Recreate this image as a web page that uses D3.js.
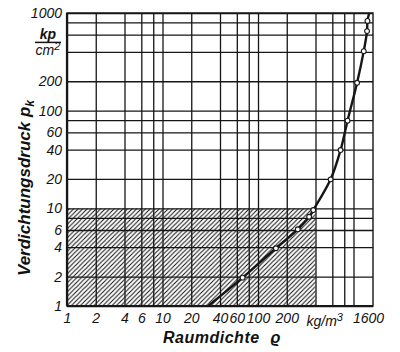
<!DOCTYPE html>
<html>
<head>
<meta charset="utf-8">
<script src="https://cdn.jsdelivr.net/npm/d3@7"></script>
<style>
  body { margin: 0; background: #fff; }
  svg text { font-family: "Liberation Sans", Arial, sans-serif; font-style: italic; fill: #111; }
</style>
</head>
<body>
<svg id="chart"></svg>
<script>
// grid values (log paper)
const gridX = [1, 2, 4, 6, 8, 10, 20, 40, 60, 80, 100, 200, 400, 600, 800, 1000];
const gridY = [1, 2, 4, 6, 8, 10, 20, 40, 60, 80, 100, 200, 400, 600, 800, 1000];
// tick labels
const tickX = [1, 2, 4, 6, 10, 20, 40, 60, 100, 200, 1600];
const tickY = [1, 2, 4, 6, 10, 20, 40, 60, 100, 200, 1000];
// measured points: density kg/m3 vs pressure kp/cm2
const density = [69, 154, 261, 343, 379, 576, 732, 866, 1090, 1280, 1386, 1400];
const pressure = [1.95, 3.9, 6.1, 8.2, 9.6, 19.8, 39.5, 79, 193, 407, 653, 830];
// where the curve leaves the paper
const curveStart = [30, 1];
const curveEnd = [1460, 1000];
// shaded area
const hatchX = [1, 400];
const hatchY = [1, 10];

const width = 400, height = 352;
const margin = { top: 13, right: 27, bottom: 46, left: 67 };
const innerW = width - margin.left - margin.right;
const innerH = height - margin.top - margin.bottom;
const ink = "#161616";

const svg = d3.select("#chart").attr("width", width).attr("height", height);

const defs = svg.append("defs");
const pat = defs.append("pattern")
    .attr("id", "hatch")
    .attr("patternUnits", "userSpaceOnUse")
    .attr("width", 4.5).attr("height", 4.5);
pat.append("path")
    .attr("d", "M-1,1 l2,-2 M0,4.5 l4.5,-4.5 M3.5,5.5 l2,-2")
    .attr("stroke", ink).attr("stroke-width", 1.1);

const g = svg.append("g").attr("transform", `translate(${margin.left},${margin.top})`);

const x = d3.scaleLog().domain([1, 1600]).range([0, innerW]);
const y = d3.scaleLog().domain([1, 1000]).range([innerH, 0]);

// hatched region
g.append("rect")
    .attr("x", x(hatchX[0]))
    .attr("y", y(hatchY[1]))
    .attr("width", x(hatchX[1]) - x(hatchX[0]))
    .attr("height", y(hatchY[0]) - y(hatchY[1]))
    .attr("fill", "url(#hatch)");

// grid lines
g.append("g")
    .attr("class", "grid-x")
    .attr("transform", `translate(0,${innerH})`)
    .call(d3.axisBottom(x).tickValues(gridX).tickSize(-innerH).tickFormat(""))
    .call(s => s.select(".domain").remove())
    .call(s => s.selectAll("line").attr("stroke", ink).attr("stroke-width", 1.3));

g.append("g")
    .attr("class", "grid-y")
    .call(d3.axisLeft(y).tickValues(gridY).tickSize(-innerW).tickFormat(""))
    .call(s => s.select(".domain").remove())
    .call(s => s.selectAll("line").attr("stroke", ink).attr("stroke-width", 1.3));

// frame
g.append("rect")
    .attr("width", innerW).attr("height", innerH)
    .attr("fill", "none").attr("stroke", ink).attr("stroke-width", 1.4);
g.append("line").attr("x1", 0).attr("x2", 0).attr("y1", 0).attr("y2", innerH)
    .attr("stroke", ink).attr("stroke-width", 2.2);
g.append("line").attr("x1", 0).attr("x2", innerW).attr("y1", innerH).attr("y2", innerH)
    .attr("stroke", ink).attr("stroke-width", 2.2);

// tick labels
const xAxis = g.append("g")
    .attr("transform", `translate(0,${innerH})`)
    .call(d3.axisBottom(x).tickValues(tickX).tickSize(0).tickPadding(6).tickFormat(d3.format("d")));
xAxis.select(".domain").remove();
xAxis.selectAll("text").style("font-size", "14px").attr("dy", "0.75em");
xAxis.selectAll("text").filter(d => d === 1600).attr("dx", -5);

const yAxis = g.append("g")
    .call(d3.axisLeft(y).tickValues(tickY).tickSize(0).tickPadding(5).tickFormat(d3.format("d")));
yAxis.select(".domain").remove();
yAxis.selectAll("text").style("font-size", "14px");

// units
g.append("text")
    .attr("x", x(500)).attr("y", innerH + 20)
    .attr("text-anchor", "middle")
    .style("font-size", "14px")
    .html('kg/m<tspan dy="-5" font-size="11">3</tspan>');

const unitY = g.append("g").attr("transform", `translate(-19,${y(500)})`);
unitY.append("text").attr("text-anchor", "middle").attr("y", -3)
    .style("font-size", "14px").style("font-weight", "bold").text("kp");
unitY.append("line").attr("x1", -13).attr("x2", 13).attr("y1", 0).attr("y2", 0)
    .attr("stroke", ink).attr("stroke-width", 1.5);
unitY.append("text").attr("text-anchor", "middle").attr("y", 13)
    .style("font-size", "14px")
    .html('cm<tspan dy="-5" font-size="11">2</tspan>');

// curve
const pts = [curveStart].concat(density.map((d, i) => [d, pressure[i]])).concat([curveEnd]);
const line = d3.line()
    .x(d => x(d[0]))
    .y(d => y(d[1]))
    .curve(d3.curveCatmullRom.alpha(0.5));

g.append("path")
    .datum(pts)
    .attr("d", line)
    .attr("fill", "none")
    .attr("stroke", ink)
    .attr("stroke-width", 2.4);

g.selectAll(".pt")
    .data(density)
    .enter()
    .append("circle")
    .attr("class", "pt")
    .attr("cx", d => x(d))
    .attr("cy", (d, i) => y(pressure[i]))
    .attr("r", 2.4)
    .attr("fill", "#fff")
    .attr("stroke", ink)
    .attr("stroke-width", 1.1);

// axis titles
svg.append("text")
    .attr("x", 222).attr("y", 343)
    .attr("text-anchor", "middle")
    .style("font-size", "16px").style("font-weight", "bold")
    .style("letter-spacing", "0.5px")
    .html('Raumdichte <tspan dx="6">ϱ</tspan>');

svg.append("text")
    .attr("transform", "translate(30,188) rotate(-90)")
    .attr("text-anchor", "middle")
    .style("font-size", "17px").style("font-weight", "bold")
    .html('Verdichtungsdruck p<tspan dy="4" font-size="12">k</tspan>');
</script>
</body>
</html>
